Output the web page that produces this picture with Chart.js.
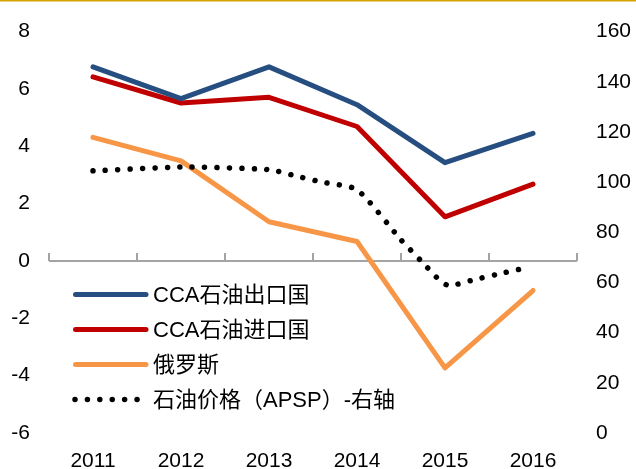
<!DOCTYPE html>
<html><head><meta charset="utf-8">
<script src="https://cdn.jsdelivr.net/npm/chart.js@4/dist/chart.umd.min.js"></script>
<style>html,body{margin:0;padding:0;background:#fff;}#wrap{width:636px;height:469px;position:relative;}</style>
</head><body><div id="wrap"><canvas id="c" width="636" height="469"></canvas></div>
<script>
const categories = ['2011', '2012', '2013', '2014', '2015', '2016'];
const seriesNames = ['CCA石油出口国', 'CCA石油进口国', '俄罗斯', '石油价格（APSP）-右轴'];
const ccaExporters = [6.77, 5.66, 6.77, 5.45, 3.43, 4.45];
const ccaImporters = [6.42, 5.51, 5.71, 4.69, 1.54, 2.68];
const russia = [4.31, 3.49, 1.37, 0.68, -3.73, -1.03];
const oilYears = [2011.0, 2012.0, 2013.0, 2013.3, 2013.6, 2014.0, 2014.5, 2014.75, 2014.95, 2015.05, 2015.33, 2015.6, 2015.88];
const oilPrice = [104.5, 106, 105, 102.5, 100, 97, 77, 67.8, 60.5, 58.7, 61.1, 63.3, 65.5];
const leftTicks = [-6, -4, -2, 0, 2, 4, 6, 8];
const rightTicks = [0, 20, 40, 60, 80, 100, 120, 140, 160];

const FONT = '"Liberation Sans", Arial, "Noto Sans CJK SC", sans-serif';

const axisPlugin = {
  id: 'zeroAxis',
  beforeDatasetsDraw(chart) {
    const { ctx, chartArea: a, scales: { x, y } } = chart;
    const yy = Math.round(y.getPixelForValue(0));
    ctx.save();
    ctx.strokeStyle = '#a3a3a3';
    ctx.lineWidth = 2;
    ctx.beginPath();
    ctx.moveTo(a.left, yy);
    ctx.lineTo(a.right, yy);
    for (let i = 0; i <= categories.length; i++) {
      const xx = Math.round(x.getPixelForValue(i - 0.5));
      ctx.moveTo(xx, yy);
      ctx.lineTo(xx, yy - 8);
    }
    ctx.stroke();
    ctx.restore();
  }
};

const legendPlugin = {
  id: 'inLegend',
  afterDraw(chart) {
    const ctx = chart.ctx;
    ctx.save();
    ctx.fillStyle = '#d6a200';
    ctx.fillRect(0, 0, chart.width, 1.5);
    const y0 = 294.5, dy = 35;
    chart.data.datasets.forEach((ds, i) => {
      const y = y0 + i * dy;
      ctx.beginPath();
      ctx.strokeStyle = ds.borderColor;
      ctx.lineWidth = ds.borderWidth;
      ctx.lineCap = 'round';
      if (ds.borderDash) {
        ctx.setLineDash(ds.borderDash);
        ctx.moveTo(75, y);
        ctx.lineTo(141, y);
      } else {
        ctx.setLineDash([]);
        ctx.moveTo(75.5, y);
        ctx.lineTo(146, y);
      }
      ctx.stroke();
      ctx.setLineDash([]);
      ctx.fillStyle = '#000';
      ctx.font = '22px ' + FONT;
      ctx.textBaseline = 'middle';
      ctx.textAlign = 'left';
      ctx.fillText(ds.label, 153, y + 1);
    });
    ctx.restore();
  }
};

const solid = (label, data, color, order) => ({
  label, data, borderColor: color, backgroundColor: color, borderWidth: 5,
  pointRadius: 0, tension: 0, borderCapStyle: 'round', borderJoinStyle: 'round',
  xAxisID: 'x', yAxisID: 'y', order
});

new Chart(document.getElementById('c'), {
  type: 'line',
  data: {
    labels: categories,
    datasets: [
      solid(seriesNames[0], ccaExporters, '#264e80', 1),
      solid(seriesNames[1], ccaImporters, '#c00000', 2),
      solid(seriesNames[2], russia, '#f79646', 3),
      {
        label: seriesNames[3],
        data: oilYears.map((yr, i) => ({ x: yr, y: oilPrice[i] })),
        borderColor: '#000', backgroundColor: '#000', borderWidth: 5.5,
        borderDash: [0.01, 12.4], borderCapStyle: 'round', borderJoinStyle: 'round',
        pointRadius: 0, tension: 0.2, xAxisID: 'x2', yAxisID: 'y2', order: 0
      }
    ]
  },
  options: {
    responsive: false, animation: false, devicePixelRatio: 1,
    layout: { padding: { top: 25, left: 0, right: 0, bottom: 0 } },
    plugins: { legend: { display: false }, tooltip: { enabled: false } },
    scales: {
      x: {
        type: 'category', offset: true, position: 'bottom',
        grid: { display: false, drawTicks: false }, border: { display: false },
        ticks: { color: '#000', font: { size: 21, family: FONT }, padding: 15.5, maxRotation: 0 },
        afterFit(s) { s.height = 36; }
      },
      x2: {
        type: 'linear', axis: 'x', display: false, min: 2010.5, max: 2016.5
      },
      y: {
        type: 'linear', position: 'left', min: -6, max: 8,
        afterBuildTicks(s) { s.ticks = leftTicks.map(v => ({ value: v })); },
        grid: { display: false, drawTicks: false }, border: { display: false },
        ticks: { color: '#000', font: { size: 21, family: FONT }, padding: 19 },
        afterFit(s) { s.width = 49; }
      },
      y2: {
        type: 'linear', position: 'right', min: 0, max: 160,
        afterBuildTicks(s) { s.ticks = rightTicks.map(v => ({ value: v })); },
        grid: { display: false, drawTicks: false }, border: { display: false },
        ticks: { color: '#000', font: { size: 21, family: FONT }, padding: 19 },
        afterFit(s) { s.width = 59; }
      }
    }
  },
  plugins: [axisPlugin, legendPlugin]
});
</script></body></html>
